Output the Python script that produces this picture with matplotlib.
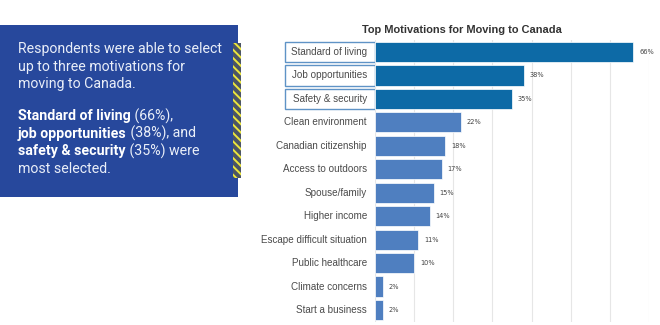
import numpy as np
import matplotlib.pyplot as plt
from matplotlib.patches import Rectangle
from matplotlib.transforms import blended_transform_factory

# data
motivations = ['Standard of living', 'Job opportunities', 'Safety & security',
               'Clean environment', 'Canadian citizenship', 'Access to outdoors',
               'Spouse/family', 'Higher income', 'Escape difficult situation',
               'Public healthcare', 'Climate concerns', 'Start a business']
percent = [66, 38, 35, 22, 18, 17, 15, 14, 11, 10, 2, 2]
n_top = 3

intro_lines = ['Respondents were able to select',
               'up to three motivations for',
               'moving to Canada.']
summary_bold = ['Standard of living', 'job opportunities', 'safety & security']
summary_rest = [' (66%),', ' (38%), and', ' (35%) were']
summary_last = 'most selected.'

dark = '#0d6aa6'
light = '#4f7fc0'
W, H = 660, 325

plt.rcParams['hatch.linewidth'] = 1.4
fig = plt.figure(figsize=(6.6, 3.25), dpi=100)
fig.patch.set_facecolor('white')
renderer = fig.canvas.get_renderer()

# left text panel
fig.patches.append(Rectangle((0, 1 - 197 / H), 238 / W, 172 / H, transform=fig.transFigure,
                             facecolor='#27489c', edgecolor='none', zorder=0))
# yellow striped accent on the right edge
fig.patches.append(Rectangle((233 / W, 1 - 178 / H), 8 / W, 135 / H, transform=fig.transFigure,
                             facecolor='#4b5566', edgecolor='#ece63c', hatch='\\\\\\\\',
                             linewidth=0, zorder=1))

font = ['Roboto', 'DejaVu Sans']
txt_col = '#e9eef8'
fs = 10.2
x0 = 18 / W
line_h = 17.5 / H
y = 1 - 53 / H
for line in intro_lines:
    fig.text(x0, y, line, color=txt_col, fontsize=fs, family=font, va='baseline')
    y -= line_h
y -= line_h * 0.85
for b, r in zip(summary_bold, summary_rest):
    t = fig.text(x0, y, b, color='white', fontsize=fs, family=font, weight='bold', va='baseline')
    bb = t.get_window_extent(renderer)
    fig.text(bb.x1 / W, y, r, color=txt_col, fontsize=fs, family=font, va='baseline')
    y -= line_h
fig.text(x0, y, summary_last, color=txt_col, fontsize=fs, family=font, va='baseline')

# bar chart
ax = fig.add_axes([375 / W, 1 - 321.7 / H, 274 / W, (321.7 - 40.3) / H])
ypos = np.arange(len(percent))
colors = [dark if i < n_top else light for i in range(len(percent))]
ax.barh(ypos, percent, height=0.86, color=colors, edgecolor='white', linewidth=0.5, zorder=2)
ax.set_xlim(0, 70)
ax.set_ylim(len(percent) - 0.5, -0.5)
ax.set_xticks(np.arange(0, 71, 10))
ax.xaxis.grid(True, color='#e6e6e6', linewidth=0.8, zorder=0)
ax.tick_params(length=0, labelbottom=False, labelleft=False)
for s in ax.spines.values():
    s.set_visible(False)

trans = blended_transform_factory(fig.transFigure, ax.transData)
for i, (lab, v) in enumerate(zip(motivations, percent)):
    ax.text(367 / W, i, lab, transform=trans, ha='right', va='center',
            fontsize=7.1, color='#4a4a4a', family=['Liberation Sans', 'DejaVu Sans'])
    ax.text(v + 1.5, i, f'{v}%', ha='left', va='center', fontsize=4.8, color='#444444')
    if i < n_top:
        ax.add_patch(Rectangle((285 / W, i - 0.43), 90 / W, 0.86, transform=trans,
                               facecolor='white', edgecolor='#5f93c6', linewidth=1.0,
                               clip_on=False, zorder=1))

fig.text(462 / W, 1 - 30 / H, 'Top Motivations for Moving to Canada', ha='center', va='center',
         fontsize=7.9, weight='bold', color='#333333', family=['Liberation Sans', 'DejaVu Sans'])

fig.savefig('out.png', dpi=100)
